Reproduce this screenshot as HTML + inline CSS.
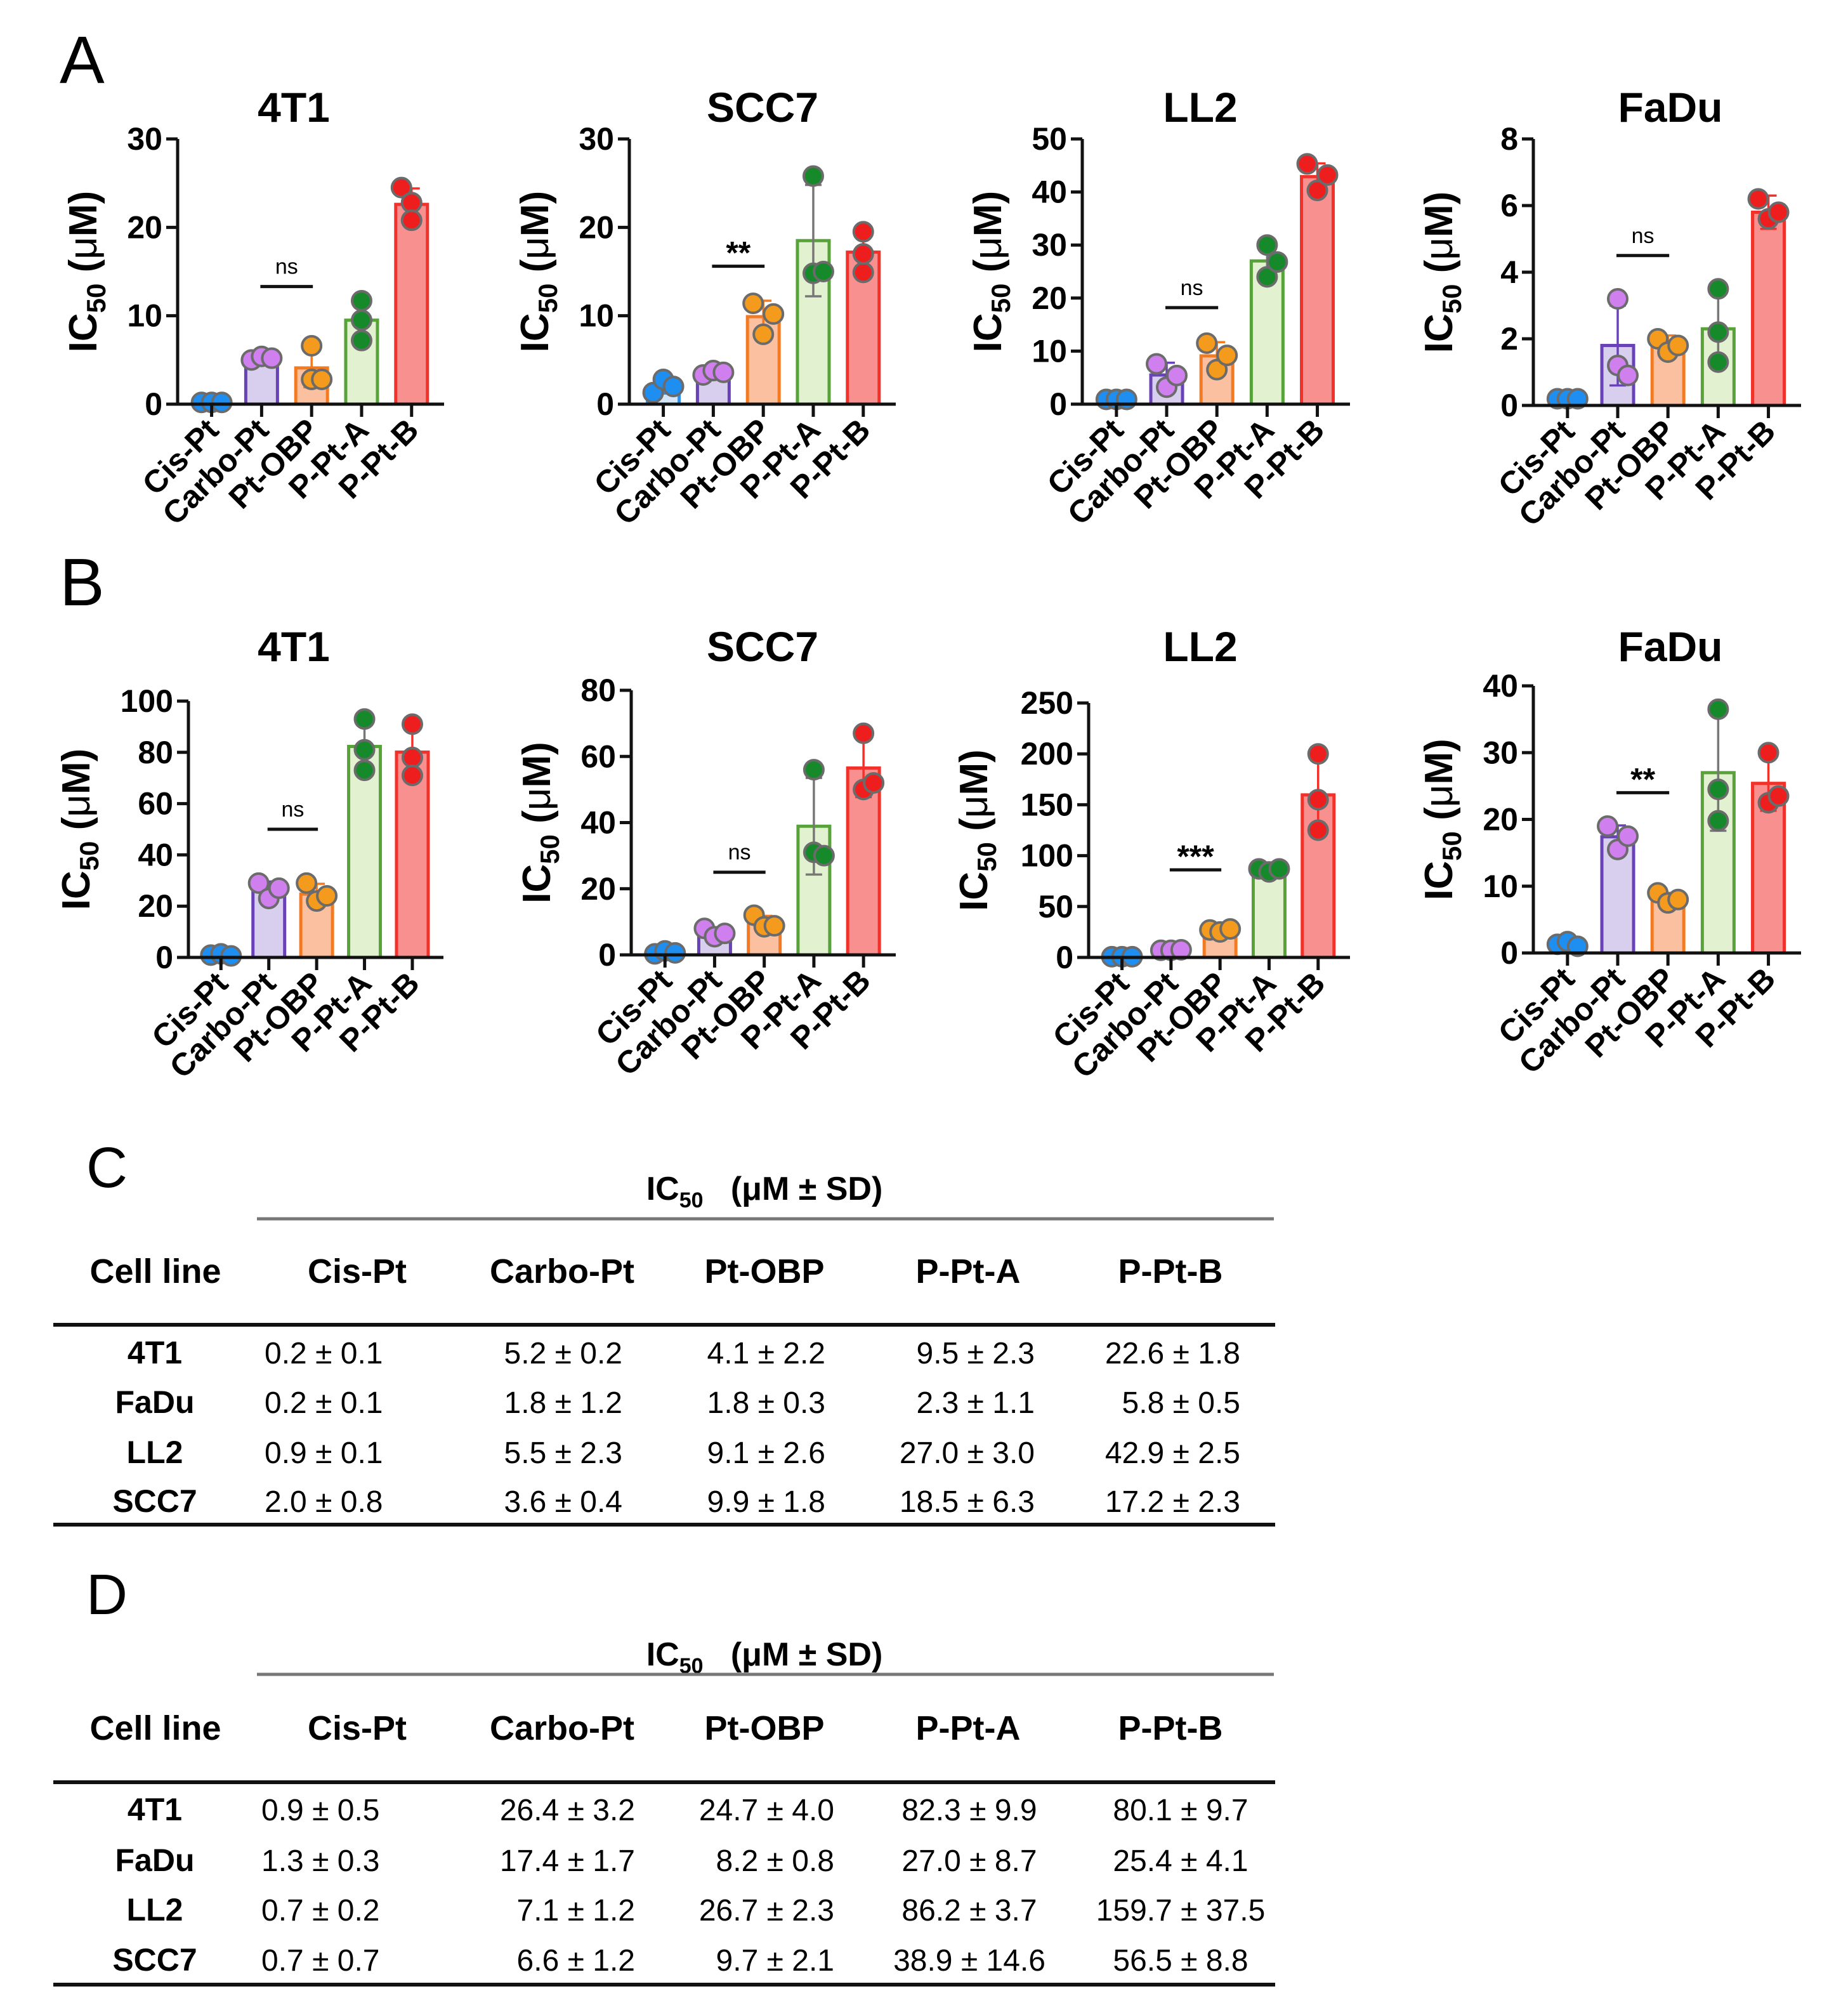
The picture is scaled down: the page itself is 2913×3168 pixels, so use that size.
<!DOCTYPE html>
<html><head><meta charset="utf-8"><style>
html,body{margin:0;padding:0;background:#fff;}
svg{display:block;font-family:"Liberation Sans",Arial,sans-serif;}
</style></head><body>
<svg id="fig" width="2913" height="3168" viewBox="0 0 2913 3168" xmlns="http://www.w3.org/2000/svg">
<g>
<text x="94" y="131" font-size="106">A</text>
<text x="94" y="954" font-size="106">B</text>
<text x="136" y="1871" font-size="90">C</text>
<text x="136" y="2544" font-size="90">D</text>
</g>
<g id="charts"></g>
<g id="tables"></g>
</svg>
<script>
const categories = ["Cis-Pt","Carbo-Pt","Pt-OBP","P-Pt-A","P-Pt-B"];
// Panel A
const a4t1Means = [0.2,5.2,4.1,9.5,22.6];
const a4t1Sd = [0.1,0.2,2.2,2.3,1.8];
const a4t1Pts = [[0.2,0.2,0.2],[5.0,5.4,5.2],[6.6,2.8,2.8],[11.7,9.5,7.2],[24.5,22.8,20.8]];
const aScc7Means = [2.0,3.6,9.9,18.5,17.2];
const aScc7Sd = [0.8,0.4,1.8,6.3,2.3];
const aScc7Pts = [[1.3,2.8,2.0],[3.3,3.8,3.6],[11.4,7.9,10.2],[25.8,14.8,15.0],[19.5,14.9,17.0]];
const aLl2Means = [0.9,5.5,9.1,27.0,42.9];
const aLl2Sd = [0.1,2.3,2.6,3.0,2.5];
const aLl2Pts = [[0.9,0.9,0.9],[7.6,3.2,5.4],[11.5,6.5,9.2],[30.0,24.0,26.8],[45.3,40.3,43.2]];
const aFaduMeans = [0.2,1.8,1.8,2.3,5.8];
const aFaduSd = [0.1,1.2,0.3,1.1,0.5];
const aFaduPts = [[0.2,0.2,0.2],[3.2,1.2,0.9],[2.0,1.6,1.8],[3.5,2.2,1.3],[6.2,5.6,5.8]];
// Panel B
const b4t1Means = [0.9,26.4,24.7,82.3,80.1];
const b4t1Sd = [0.5,3.2,4.0,9.9,9.7];
const b4t1Pts = [[0.9,1.4,0.6],[29,23,27],[29,22,24],[93,81,73],[91,78,71]];
const bScc7Means = [0.7,6.6,9.7,38.9,56.5];
const bScc7Sd = [0.7,1.2,2.1,14.6,8.8];
const bScc7Pts = [[0.3,1.2,0.6],[8.0,5.5,6.5],[12.0,8.5,8.8],[56,31,30],[67,50,52]];
const bLl2Means = [0.7,7.1,26.7,86.2,159.7];
const bLl2Sd = [0.2,1.2,2.3,3.7,37.5];
const bLl2Pts = [[0.7,0.7,0.7],[7.0,7.0,7.5],[27,25,28],[87,84,87],[200,125,155]];
const bFaduMeans = [1.3,17.4,8.2,27.0,25.4];
const bFaduSd = [0.3,1.7,0.8,8.7,4.1];
const bFaduPts = [[1.3,1.7,1.0],[19,15.5,17.5],[9.0,7.5,8.0],[36.5,24.5,19.8],[30,22.5,23.5]];
// y tick labels
const ticks30 = [0,10,20,30];
const ticks50 = [0,10,20,30,40,50];
const ticks8 = [0,2,4,6,8];
const ticks100 = [0,20,40,60,80,100];
const ticks80 = [0,20,40,60,80];
const ticks250 = [0,50,100,150,200,250];
const ticks40 = [0,10,20,30,40];
// significance brackets
const sigLabels = ["ns","**","ns","ns","ns","ns","***","**"];
const sigLevels = [13.3,15.6,18.2,4.5,50,25,86,24];

const fills = ["#d4e6f8","#d8cfee","#fbc0a0","#e2f1cf","#f99090"];
const strokes = ["#2f8ee6","#6a42b8","#f27a22","#58a23a","#f2322a"];
const dotCols = ["#1e8ff0","#cf7fee","#f49a1c","#168a2a","#ee1e1e"];

const NS = "http://www.w3.org/2000/svg";
function mk(tag, attrs, parent){const e=document.createElementNS(NS,tag);for(const k in attrs)e.setAttribute(k,attrs[k]);parent.appendChild(e);return e;}

const charts = [
 {title:"4T1", tx:463, ty:192, lo:128, ax:280, ex:700, top:219, y0:637, max:30, ticks:ticks30, m:a4t1Means, sd:a4t1Sd, p:a4t1Pts},
 {title:"SCC7", tx:1202, ty:192, lo:128, ax:992, ex:1412, top:219, y0:637, max:30, ticks:ticks30, m:aScc7Means, sd:aScc7Sd, p:aScc7Pts},
 {title:"LL2", tx:1892, ty:192, lo:128, ax:1706, ex:2128, top:219, y0:637, max:50, ticks:ticks50, m:aLl2Means, sd:aLl2Sd, p:aLl2Pts},
 {title:"FaDu", tx:2633, ty:192, lo:128, ax:2417, ex:2839, top:219, y0:639, max:8, ticks:ticks8, m:aFaduMeans, sd:aFaduSd, p:aFaduPts},
 {title:"4T1", tx:463, ty:1042, lo:156, ax:297, ex:699, top:1105, y0:1509, max:100, ticks:ticks100, m:b4t1Means, sd:b4t1Sd, p:b4t1Pts},
 {title:"SCC7", tx:1202, ty:1042, lo:128, ax:995, ex:1412, top:1088, y0:1505, max:80, ticks:ticks80, m:bScc7Means, sd:bScc7Sd, p:bScc7Pts},
 {title:"LL2", tx:1892, ty:1042, lo:160, ax:1716, ex:2128, top:1108, y0:1509, max:250, ticks:ticks250, m:bLl2Means, sd:bLl2Sd, p:bLl2Pts},
 {title:"FaDu", tx:2633, ty:1042, lo:128, ax:2417, ex:2839, top:1081, y0:1502, max:40, ticks:ticks40, m:bFaduMeans, sd:bFaduSd, p:bFaduPts}
];
const root = document.getElementById('charts');
charts.forEach((c,ci)=>{
  const g = mk('g',{},root);
  
  
  const y = v => c.y0 - v/c.max*(c.y0-c.top);
  const sp = (c.ex-c.ax)/5.33;
  const x = i => c.ax + 0.68*sp + i*sp;
  const bw = 50;
  const t = mk('text',{x:c.tx, y:c.ty, 'font-size':66,'font-weight':'bold','text-anchor':'middle'},g);
  t.textContent=c.title;
  
  
  const yl = mk('text',{x:0,y:0,'font-size':62,'font-weight':'bold','text-anchor':'middle',transform:`translate(${c.ax-c.lo},${(c.top+c.y0)/2}) rotate(-90)`},g);
  yl.innerHTML='IC<tspan font-size="42" dy="14">50</tspan><tspan dy="-14"> (</tspan><tspan font-weight="normal">μ</tspan>M)';
  
  
  c.m.forEach((v,i)=>{
    const r = mk('rect',{x:x(i)-bw/2,y:y(v),width:bw,height:c.y0-y(v),fill:fills[i],stroke:strokes[i],'stroke-width':5},g);
    
    
    const hi=y(v+c.sd[i]), lo=y(Math.max(0,v-c.sd[i]));
    const eb = mk('path',{d:`M${x(i)},${hi}V${lo}M${x(i)-13},${hi}H${x(i)+13}M${x(i)-13},${lo}H${x(i)+13}`,stroke:i===3?'#777':strokes[i],'stroke-width':3.5,fill:'none'},g);
    
    
  });
  c.p.forEach((pts,i)=>{
    const ys = pts.map(y);
    pts.forEach((v,j)=>{
      let close=false; ys.forEach((yy,k)=>{if(k!==j&&Math.abs(yy-ys[j])<26)close=true;});
      const off = close ? (j-1)*16 : 0;
      const d = mk('circle',{cx:x(i)+off,cy:ys[j],r:15,fill:dotCols[i],stroke:'#6b6b6b','stroke-width':4},g);
      
      
    });
  });
  const axl = mk('path',{d:`M${c.ax},${c.top}V${c.y0}H${c.ex}`,stroke:'#111','stroke-width':5,fill:'none'},g);
  
  
  c.ticks.forEach(tv=>{
    mk('line',{x1:c.ax-18,x2:c.ax,y1:y(tv),y2:y(tv),stroke:'#111','stroke-width':5},g);
    const tl = mk('text',{x:c.ax-24,y:y(tv)+17,'font-size':50,'font-weight':'bold','text-anchor':'end'},g);
    tl.textContent=tv;
    
    
  });
  categories.forEach((cat,i)=>{
    mk('line',{x1:x(i),x2:x(i),y1:c.y0,y2:c.y0+20,stroke:'#111','stroke-width':5},g);
    const xl = mk('text',{x:0,y:0,'font-size':50,'font-weight':'bold','text-anchor':'end',transform:`translate(${x(i)+14},${c.y0+44}) rotate(-45)`},g);
    xl.textContent=cat;
    
    
  });
  const by = y(sigLevels[ci]);
  const bl = mk('line',{x1:x(1)-2,x2:x(2)+2,y1:by,y2:by,stroke:'#111','stroke-width':5},g);
  
  
  const lab = sigLabels[ci];
  const st = mk('text',{x:(x(1)+x(2))/2,y:lab==='ns'?by-20:by-4,'font-size':lab==='ns'?34:50,'font-weight':lab==='ns'?'normal':'bold','text-anchor':'middle'},g);
  st.textContent=lab;
  
  
});

const rowLabels = ["4T1","FaDu","LL2","SCC7"];
const tableC = [["0.2 ± 0.1","5.2 ± 0.2","4.1 ± 2.2","9.5 ± 2.3","22.6 ± 1.8"],
 ["0.2 ± 0.1","1.8 ± 1.2","1.8 ± 0.3","2.3 ± 1.1","5.8 ± 0.5"],
 ["0.9 ± 0.1","5.5 ± 2.3","9.1 ± 2.6","27.0 ± 3.0","42.9 ± 2.5"],
 ["2.0 ± 0.8","3.6 ± 0.4","9.9 ± 1.8","18.5 ± 6.3","17.2 ± 2.3"]];
const tableD = [["0.9 ± 0.5","26.4 ± 3.2","24.7 ± 4.0","82.3 ± 9.9","80.1 ± 9.7"],
 ["1.3 ± 0.3","17.4 ± 1.7","8.2 ± 0.8","27.0 ± 8.7","25.4 ± 4.1"],
 ["0.7 ± 0.2","7.1 ± 1.2","26.7 ± 2.3","86.2 ± 3.7","159.7 ± 37.5"],
 ["0.7 ± 0.7","6.6 ± 1.2","9.7 ± 2.1","38.9 ± 14.6","56.5 ± 8.8"]];
const troot = document.getElementById('tables');
function table(name,vals,hy,gl,chy,tl,rows,bl,anchors){
  const g = mk('g',{},troot);
  
  
  const h = mk('text',{x:1205,y:hy,'font-size':52,'font-weight':'bold','text-anchor':'middle'},g);
  h.innerHTML='IC<tspan font-size="34" dy="12">50</tspan><tspan dy="-12" xml:space="preserve">   (μM ± SD)</tspan>';
  
  
  mk('line',{x1:405,x2:2008,y1:gl,y2:gl,stroke:'#777','stroke-width':5},g);
  mk('line',{x1:84,x2:2010,y1:tl,y2:tl,stroke:'#111','stroke-width':6},g);
  mk('line',{x1:84,x2:2010,y1:bl,y2:bl,stroke:'#111','stroke-width':6},g);
  const colX=[245,563,886,1205,1526,1845];
  ["Cell line"].concat(categories).forEach((c,i)=>{
    const t=mk('text',{x:colX[i],y:chy,'font-size':54,'font-weight':'bold','text-anchor':'middle'},g);
    t.textContent=c;
    
    
  });
  rowLabels.forEach((r,ri)=>{
    const t=mk('text',{x:244,y:rows[ri],'font-size':50,'font-weight':'bold','text-anchor':'middle'},g);
    t.textContent=r;
    
    
    vals[ri].forEach((v,ci)=>{
      const c=mk('text',{x:anchors[ci][0],y:rows[ri],'font-size':48,'text-anchor':anchors[ci][1]},g);
      c.textContent=v;
      
      
    });
  });
}
table('table-c',tableC,1891,1921,2022,2088,[2149,2227,2306,2383],2403,[[417,'start'],[981,'end'],[1301,'end'],[1631,'end'],[1955,'end']]);
table('table-d',tableD,2625,2639,2742,2809,[2869,2949,3027,3106],3128,[[412,'start'],[1001,'end'],[1315,'end'],[1528,'middle'],[1861,'middle']]);
</script>
</body></html>
